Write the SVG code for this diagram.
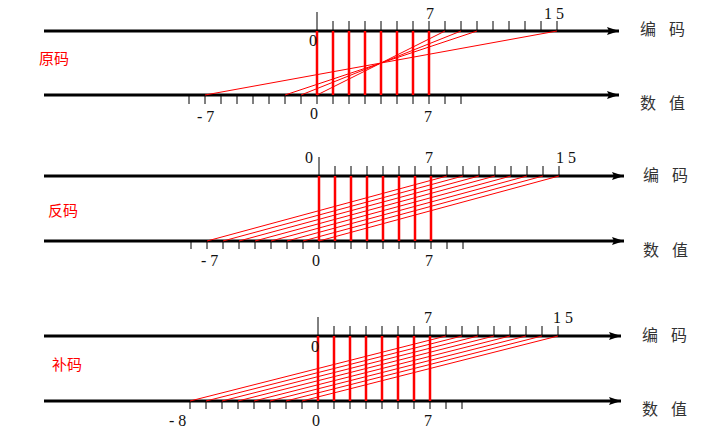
<svg xmlns="http://www.w3.org/2000/svg" width="715" height="444" viewBox="0 0 715 444">
<style>
.ax{stroke:#000;stroke-width:3;fill:none}
.tk{stroke:#000;stroke-width:1;fill:none}
.rv{stroke:#f00;stroke-width:2.5;fill:none}
.rd{stroke:#f00;stroke-width:1;fill:none}
.num{font-family:"Liberation Serif","Times New Roman",serif;font-size:16px;fill:#111}
.cj{font-family:"Noto Sans CJK SC","Noto Sans",sans-serif;font-size:16px;fill:#333}
.rl{font-family:"Noto Sans CJK SC","Noto Sans",sans-serif;font-size:15px;fill:#f00}
</style>
<defs>
<marker id="ar" markerUnits="userSpaceOnUse" markerWidth="14" markerHeight="10" refX="12" refY="5" orient="auto">
<path d="M0,1 L12,5 L0,9 L2,5 Z" fill="#000"/>
</marker>
</defs>

<g id="panel-yuanma">
<g id="axes1">
<line class="ax" x1="44" y1="31" x2="619" y2="31" marker-end="url(#ar)"/>
<line class="ax" x1="44" y1="95" x2="619" y2="95" marker-end="url(#ar)"/>
</g>
<g id="ticks1" class="tk">
<path d="M317,12V31M333,21V31M349,21V31M365,21V31M381,21V31M397,21V31M413,21V31M429,21V31M445,21V31M461,21V31M477,21V31M493,21V31M509,21V31M525,21V31M541,21V31M557,21V31"/>
<path d="M189,95V104M205,95V104M221,95V104M237,95V104M253,95V104M269,95V104M285,95V104M301,95V104M317,95V104M333,95V104M349,95V104M365,95V104M381,95V104M397,95V104M413,95V104M429,95V104M445,95V104M461,95V104"/>
</g>
<g id="connectors1">
<path class="rv" d="M317,31V95M333,31V95M349,31V95M365,31V95M381,31V95M397,31V95M413,31V95M429,31V95"/>
<path class="rd" d="M445,31L317,95M461,31L301,95M477,31L285,95M557,31L205,95"/>
</g>
<g id="labels1">
<text class="num" x="430" y="19" text-anchor="middle">7</text>
<text class="num" x="544" y="19" xml:space="preserve">1 5</text>
<text class="num" x="313" y="46" text-anchor="middle">0</text>
<text class="num" x="197" y="122" xml:space="preserve">- 7</text>
<text class="num" x="314" y="119" text-anchor="middle">0</text>
<text class="num" x="428" y="122" text-anchor="middle">7</text>
<text class="cj" x="640" y="35" textLength="45" lengthAdjust="spacing">编 码</text>
<text class="cj" x="640" y="109" textLength="45" lengthAdjust="spacing">数 值</text>
<text class="rl" x="39" y="64">原码</text>
</g>
</g>

<g id="panel-fanma">
<g id="axes2">
<line class="ax" x1="44" y1="176" x2="624" y2="176" marker-end="url(#ar)"/>
<line class="ax" x1="44" y1="241" x2="624" y2="241" marker-end="url(#ar)"/>
</g>
<g id="ticks2" class="tk">
<path d="M319,157V176M335,166V176M351,166V176M367,166V176M383,166V176M399,166V176M415,166V176M431,166V176M447,166V176M463,166V176M479,166V176M495,166V176M511,166V176M527,166V176M543,166V176M559,166V176"/>
<path d="M191,241V249M207,241V249M223,241V249M239,241V249M255,241V249M271,241V249M287,241V249M303,241V249M319,241V249M335,241V249M351,241V249M367,241V249M383,241V249M399,241V249M415,241V249M431,241V249M447,241V249M463,241V249"/>
</g>
<g id="connectors2">
<path class="rv" d="M319,176V241M335,176V241M351,176V241M367,176V241M383,176V241M399,176V241M415,176V241M431,176V241"/>
<path class="rd" d="M447,176L207,241M463,176L223,241M479,176L239,241M495,176L255,241M511,176L271,241M527,176L287,241M543,176L303,241M559,176L319,241"/>
</g>
<g id="labels2">
<text class="num" x="309" y="163" text-anchor="middle">0</text>
<text class="num" x="429" y="163" text-anchor="middle">7</text>
<text class="num" x="556" y="163" xml:space="preserve">1 5</text>
<text class="num" x="201" y="266" xml:space="preserve">- 7</text>
<text class="num" x="316" y="266" text-anchor="middle">0</text>
<text class="num" x="429" y="266" text-anchor="middle">7</text>
<text class="cj" x="643" y="181" textLength="45" lengthAdjust="spacing">编 码</text>
<text class="cj" x="643" y="256" textLength="45" lengthAdjust="spacing">数 值</text>
<text class="rl" x="48" y="216">反码</text>
</g>
</g>

<g id="panel-buma">
<g id="axes3">
<line class="ax" x1="44" y1="336" x2="621" y2="336" marker-end="url(#ar)"/>
<line class="ax" x1="44" y1="401" x2="621" y2="401" marker-end="url(#ar)"/>
</g>
<g id="ticks3" class="tk">
<path d="M318,317V336M334,326V336M350,326V336M366,326V336M382,326V336M398,326V336M414,326V336M430,326V336M446,326V336M462,326V336M478,326V336M494,326V336M510,326V336M526,326V336M542,326V336M558,326V336"/>
<path d="M190,401V409M206,401V409M222,401V409M238,401V409M254,401V409M270,401V409M286,401V409M302,401V409M318,401V409M334,401V409M350,401V409M366,401V409M382,401V409M398,401V409M414,401V409M430,401V409M446,401V409M462,401V409"/>
</g>
<g id="connectors3">
<path class="rv" d="M318,336V401M334,336V401M350,336V401M366,336V401M382,336V401M398,336V401M414,336V401M430,336V401"/>
<path class="rd" d="M446,336L190,401M462,336L206,401M478,336L222,401M494,336L238,401M510,336L254,401M526,336L270,401M542,336L286,401M558,336L302,401"/>
</g>
<g id="labels3">
<text class="num" x="428" y="323" text-anchor="middle">7</text>
<text class="num" x="553" y="323" xml:space="preserve">1 5</text>
<text class="num" x="315" y="352" text-anchor="middle">0</text>
<text class="num" x="169" y="426" xml:space="preserve">- 8</text>
<text class="num" x="316" y="426" text-anchor="middle">0</text>
<text class="num" x="428" y="426" text-anchor="middle">7</text>
<text class="cj" x="642" y="341" textLength="45" lengthAdjust="spacing">编 码</text>
<text class="cj" x="642" y="415" textLength="45" lengthAdjust="spacing">数 值</text>
<text class="rl" x="52" y="370">补码</text>
</g>
</g>
</svg>
